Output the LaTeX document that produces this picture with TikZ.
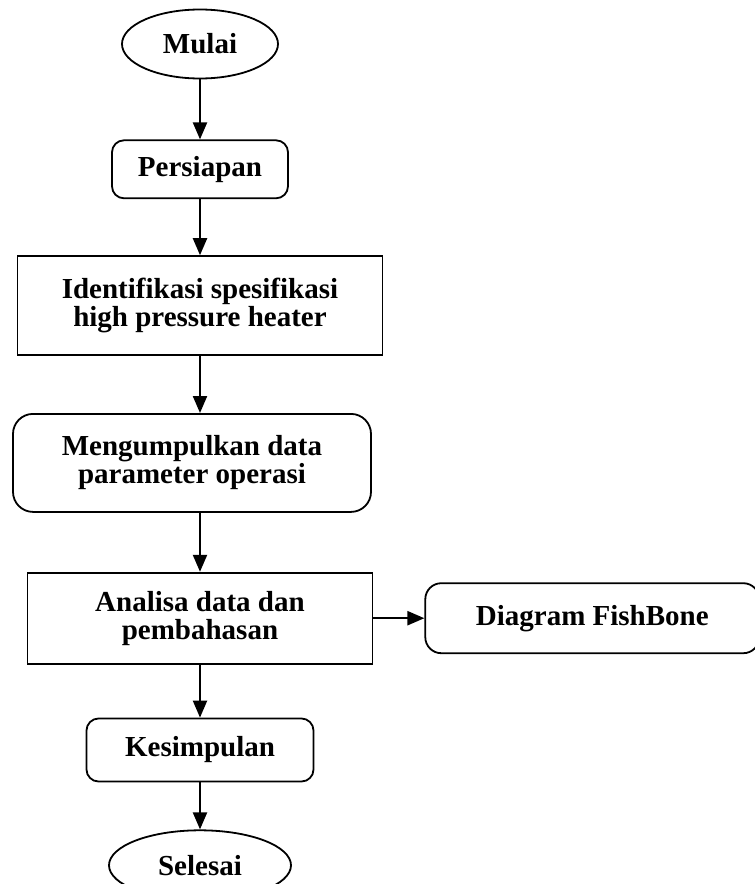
\documentclass[tikz,border=0pt]{standalone}
\usepackage{fontspec}
\setmainfont{Liberation Serif}
\usetikzlibrary{arrows.meta,positioning,shapes.geometric}

\begin{document}
\begin{tikzpicture}[
    x=0.5pt, y=-0.5pt,
    every node/.style={font=\fontsize{14.5}{14}\selectfont\bfseries, align=center},
    terminal/.style={
        draw,
        ellipse,
        line width=0.9pt,
        inner sep=0pt
    },
    proc/.style={
        draw,
        line width=0.9pt,
        inner sep=0pt
    },
    roundproc/.style={
        draw,
        rounded corners=6pt,
        line width=0.9pt,
        inner sep=0pt
    },
    arrow/.style={-{Triangle[length=8.5pt,width=7pt]}, line width=1.1pt},
    every edge/.style={draw,arrow},
    ]

    \useasboundingbox (0,0) rectangle (755,884);

    \node[terminal, minimum width=78pt, minimum height=34.5pt] (mulai) at (200,44) {Mulai};
    \node[roundproc, minimum width=88pt, minimum height=29pt, below=30pt of mulai] (persiapan) {Persiapan};
    \node[proc, minimum width=182.5pt, minimum height=49.5pt, below=28pt of persiapan] (identifikasi) {Identifikasi spesifikasi\\high pressure heater};
    \node[roundproc, rounded corners=10pt, minimum width=179pt, minimum height=49pt, below=28.5pt of identifikasi, xshift=-4pt] (data) {Mengumpulkan data\\parameter operasi};
    \node[proc, minimum width=172.5pt, minimum height=45.5pt, below=29.5pt of data, xshift=4pt] (analisa) {Analisa data dan\\pembahasan};
    \node[roundproc, rounded corners=8pt, minimum width=167pt, minimum height=35pt, right=25.5pt of analisa] (fishbone) {Diagram FishBone};
    \node[roundproc, minimum width=113.5pt, minimum height=31.5pt, below=26.5pt of analisa] (kesimpulan) {Kesimpulan};
    \node[terminal, minimum width=91pt, minimum height=35pt, below=23.5pt of kesimpulan] (selesai) {Selesai};

    % main line runs straight down, the wider boxes sit a bit off it
    \path
        (mulai) edge (persiapan)
        (persiapan) edge (identifikasi)
        (identifikasi) edge (identifikasi.south |- data.north)
        (data.south -| analisa) edge (analisa)
        (analisa) edge (fishbone)
        (analisa) edge (kesimpulan)
        (kesimpulan) edge (selesai);
\end{tikzpicture}
\end{document}
